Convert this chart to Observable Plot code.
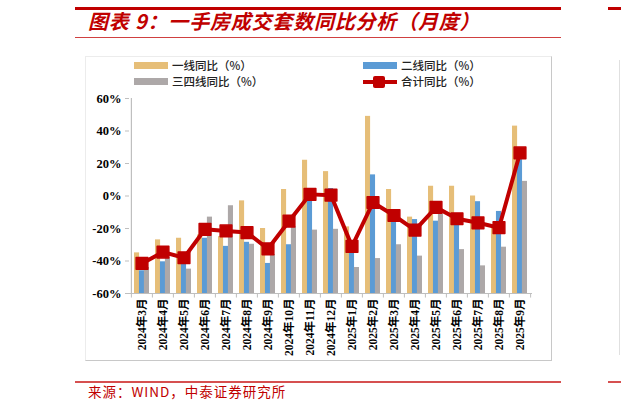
<!DOCTYPE html>
<html>
<head>
<meta charset="utf-8">
<script src="https://cdn.jsdelivr.net/npm/d3@7"></script>
<script src="https://cdn.jsdelivr.net/npm/@observablehq/plot@0.6"></script>
<style>
  html, body { margin: 0; padding: 0; background: #fff; }
  #page { position: relative; width: 621px; height: 409px; overflow: hidden; background: #fff; }
  .abs { position: absolute; }
  .title { left: 88px; top: 8px; font-family: "Noto Sans CJK SC", sans-serif; font-weight: 700; font-style: italic; font-size: 20px; line-height: 26px; color: #C00000; white-space: nowrap; letter-spacing: 0.8px; }
  .leg { font-family: "Noto Sans CJK SC", sans-serif; font-size: 11.5px; font-weight: 500; color: #222; white-space: nowrap; line-height: 13px; }
  .source { left: 88px; top: 383px; font-family: "Noto Sans CJK SC", sans-serif; font-size: 13.5px; line-height: 16px; color: #C00000; white-space: nowrap; letter-spacing: 1px; }
</style>
</head>
<body>
<div id="page">
  <div class="abs" style="left:75px; top:7px; width:486px; height:3px; background:#C00000;"></div>
  <div class="abs" style="left:608px; top:7px; width:13px; height:3px; background:#C00000;"></div>
  <div class="abs title">图表 9：一手房成交套数同比分析（月度）</div>
  <div class="abs" style="left:75px; top:37px; width:486px; height:1px; background:#d04040;"></div>
  <div class="abs" style="left:85px; top:56px; width:465px; height:303px; border-top:1px solid #ececec; border-left:1px solid #ececec; border-right:1px solid #c8c8c8; border-bottom:1px solid #c8c8c8;"></div>
  <div class="abs" style="left:619px; top:60px; width:1px; height:295px; background:#e0e0e0;"></div>
  <div id="legend"></div>
  <div id="chart" class="abs" style="left:0; top:88px;"></div>
  <div class="abs" style="left:75px; top:381px; width:486px; height:2px; background:#d65050;"></div>
  <div class="abs" style="left:608px; top:381px; width:13px; height:2px; background:#d65050;"></div>
  <div class="abs source">来源：WIND，中泰证券研究所</div>
</div>
<script>
// ---- data ----
const months = ["2024年3月","2024年4月","2024年5月","2024年6月","2024年7月","2024年8月","2024年9月","2024年10月","2024年11月","2024年12月","2025年1月","2025年2月","2025年3月","2025年4月","2025年5月","2025年6月","2025年7月","2025年8月","2025年9月"];
const tier1 = [-35, -27, -26, -24, -25, -3, -20, 4, 22, 15, -19, 49, 4, -13, 6, 6, 0, -18, 43];
const tier2 = [-46, -40.5, -41.5, -26, -31, -28.5, -41.5, -30, -1, 4.6, -33, 13, -15, -14.5, -15.5, -16, -3.5, -9.5, 23];
const tier34 = [-44, -38, -45, -13, -6, -29.7, -36, -19, -21, -20.5, -44, -38.5, -30, -37, -11, -33, -43, -31.5, 9];
const total = [-41.5, -34.5, -38, -20.5, -21.5, -22.5, -32.5, -15.5, 1, 0.5, -31, -4, -12, -21, -7, -14, -16.5, -19.5, 26.5];
const yTicks = [-60, -40, -20, 0, 20, 40, 60];
const seriesNames = ["一线同比（%）", "二线同比（%）", "三四线同比（%）", "合计同比（%）"];
const colors = ["#E6BE78", "#5B9BD5", "#ADA8A8", "#C00000"];

const rows = months.map((m, i) => ({month: m, t1: tier1[i], t2: tier2[i], t34: tier34[i], total: total[i]}));

// ---- layout ----
const W = 560, H = 272, mL = 129, mR = 28, mT = 10, mB = 67;
const padIn = 0.3, padOut = 0.15;
const step = (W - mL - mR) / (months.length - padIn + 2 * padOut);
const bw = step * (1 - padIn);
const third = bw / 3;
const axisGray = "#bfbfbf";
const yMin = yTicks[0];

const chart = Plot.plot({
  width: W, height: H,
  marginLeft: mL, marginRight: mR, marginTop: mT, marginBottom: mB,
  style: {fontFamily: "'Liberation Serif', 'Noto Sans CJK SC', serif", fontWeight: "bold", fontSize: "12.5px", color: "#000", background: "transparent", overflow: "visible"},
  x: {type: "band", domain: months, paddingInner: padIn, paddingOuter: padOut, label: null},
  y: {domain: [yMin, yTicks[yTicks.length - 1]], label: null},
  marks: [
    Plot.barY(rows, {x: "month", y1: () => yMin, y2: "t1", fill: colors[0], insetLeft: 0, insetRight: 2 * third}),
    Plot.barY(rows, {x: "month", y1: () => yMin, y2: "t2", fill: colors[1], insetLeft: third, insetRight: third}),
    Plot.barY(rows, {x: "month", y1: () => yMin, y2: "t34", fill: colors[2], insetLeft: 2 * third, insetRight: 0}),
    Plot.ruleY([yMin], {stroke: axisGray, strokeWidth: 1.2}),
    Plot.ruleX([months[0]], {y1: yMin, y2: 60, dx: -step / 2, stroke: axisGray, strokeWidth: 1.2}),
    Plot.ruleX(months, {y1: yMin, y2: yMin - 2.8, dx: -step / 2, stroke: axisGray}),
    Plot.ruleX([months[months.length - 1]], {y1: yMin, y2: yMin - 2.8, dx: step / 2, stroke: axisGray}),
    Plot.axisY({ticks: yTicks, tickFormat: d => d + "%", tickSize: 4, tickPadding: 4, stroke: axisGray, fontSize: 12.5}),
    Plot.axisX({tickRotate: -90, tickSize: 0, tickPadding: 5, fontSize: 11.5}),
    Plot.line(rows, {x: "month", y: "total", stroke: colors[3], strokeWidth: 4, strokeLinejoin: "round"}),
    Plot.dot(rows, {x: "month", y: "total", symbol: "square", r: 6.6, fill: colors[3], stroke: colors[3], strokeWidth: 1.5, strokeLinejoin: "round"})
  ]
});
document.getElementById("chart").appendChild(chart);

// ---- legend (HTML) ----
const legend = document.getElementById("legend");
const legPos = [[134, 59], [363, 59], [134, 75], [363, 75]];
seriesNames.forEach((name, i) => {
  const [lx, ly] = legPos[i];
  let sw;
  if (i < 3) {
    sw = `<div class="abs" style="left:${lx}px; top:${ly + 3}px; width:34px; height:7px; background:${colors[i]};"></div>`;
  } else {
    sw = `<div class="abs" style="left:${lx}px; top:${ly + 5}px; width:34px; height:4px; background:${colors[3]};"></div>` +
         `<div class="abs" style="left:${lx + 10}px; top:${ly + 1}px; width:12px; height:12px; border-radius:2px; background:${colors[3]};"></div>`;
  }
  legend.insertAdjacentHTML("beforeend", sw + `<div class="abs leg" style="left:${lx + 38}px; top:${ly}px;">${name}</div>`);
});
</script>
</body>
</html>
